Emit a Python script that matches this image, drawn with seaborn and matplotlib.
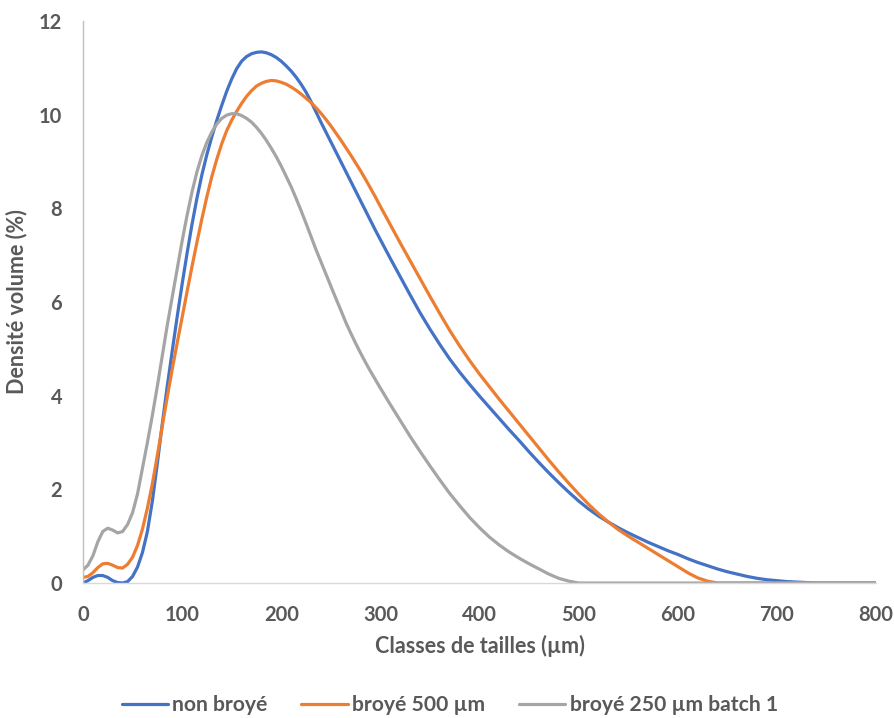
import pandas as pd
import matplotlib
matplotlib.use("Agg")
import matplotlib.pyplot as plt
import seaborn as sns

# Size classes (µm): every 5 µm up to 295, then every 10 µm
tailles = list(range(0, 300, 5)) + list(range(300, 801, 10))

# Volume density (%)
non_broye = [0.0, 0.05, 0.12, 0.16, 0.16, 0.12, 0.05, 0.01, 0.0, 0.03,
             0.14, 0.34, 0.65, 1.1, 1.75, 2.55, 3.4, 4.2, 4.95, 5.68,
             6.38, 7.04, 7.66, 8.22, 8.72, 9.15, 9.53, 9.88, 10.2, 10.5,
             10.76, 10.98, 11.14, 11.24, 11.3, 11.33, 11.34, 11.32, 11.28, 11.22,
             11.14, 11.04, 10.93, 10.8, 10.65, 10.48, 10.28, 10.06, 9.84, 9.63,
             9.42, 9.21, 9.0, 8.79, 8.58, 8.37, 8.16, 7.95, 7.74, 7.53,
             7.33, 6.93, 6.54, 6.15, 5.77, 5.42, 5.09, 4.78, 4.5, 4.24,
             3.99, 3.75, 3.51, 3.27, 3.04, 2.8, 2.57, 2.35, 2.14, 1.94,
             1.75, 1.58, 1.43, 1.3, 1.18, 1.07, 0.97, 0.87, 0.78, 0.69,
             0.61, 0.52, 0.44, 0.37, 0.3, 0.24, 0.19, 0.14, 0.1, 0.07,
             0.05, 0.03, 0.02, 0.01, 0.0, 0.0, 0.0, 0.0, 0.0, 0.0,
             0.0]

broye_500 = [0.12, 0.14, 0.22, 0.33, 0.41, 0.42, 0.38, 0.33, 0.32, 0.4,
             0.55, 0.8, 1.15, 1.6, 2.12, 2.72, 3.35, 3.97, 4.56, 5.12,
             5.67, 6.22, 6.76, 7.28, 7.78, 8.25, 8.68, 9.05, 9.38, 9.66,
             9.88, 10.07, 10.24, 10.39, 10.51, 10.61, 10.67, 10.71, 10.73, 10.72,
             10.69, 10.65, 10.59, 10.52, 10.44, 10.35, 10.26, 10.15, 10.03, 9.9,
             9.76, 9.61, 9.46, 9.3, 9.14, 8.97, 8.8, 8.62, 8.43, 8.24,
             8.04, 7.65, 7.26, 6.88, 6.5, 6.12, 5.75, 5.39, 5.06, 4.75,
             4.46, 4.19, 3.92, 3.66, 3.4, 3.14, 2.88, 2.62, 2.37, 2.13,
             1.9, 1.68, 1.48, 1.3, 1.14, 1.0, 0.87, 0.74, 0.61, 0.48,
             0.35, 0.22, 0.11, 0.04, 0.0, 0.0, 0.0, 0.0, 0.0, 0.0,
             0.0, 0.0, 0.0, 0.0, 0.0, 0.0, 0.0, 0.0, 0.0, 0.0,
             0.0]

broye_250 = [0.28, 0.38, 0.58, 0.88, 1.1, 1.17, 1.13, 1.07, 1.1, 1.25,
             1.5, 1.9, 2.45, 3.0, 3.58, 4.2, 4.85, 5.5, 6.1, 6.7,
             7.3, 7.85, 8.35, 8.78, 9.13, 9.41, 9.63, 9.8, 9.92, 9.99,
             10.02, 10.02, 9.98, 9.92, 9.84, 9.73, 9.6, 9.45, 9.28, 9.1,
             8.9, 8.68, 8.46, 8.21, 7.95, 7.68, 7.4, 7.12, 6.86, 6.6,
             6.34, 6.08, 5.83, 5.57, 5.34, 5.12, 4.91, 4.71, 4.52, 4.34,
             4.16, 3.81, 3.47, 3.13, 2.81, 2.5, 2.2, 1.91, 1.65, 1.4,
             1.18, 0.98, 0.81, 0.66, 0.53, 0.41, 0.3, 0.19, 0.1, 0.04,
             0.0, 0.0, 0.0, 0.0, 0.0, 0.0, 0.0, 0.0, 0.0, 0.0,
             0.0, 0.0, 0.0, 0.0, 0.0, 0.0, 0.0, 0.0, 0.0, 0.0,
             0.0, 0.0, 0.0, 0.0, 0.0, 0.0, 0.0, 0.0, 0.0, 0.0,
             0.0]

series_names = ["non broyé", "broyé 500 µm", "broyé 250 µm batch 1"]
series_colors = ["#4472C4", "#ED7D31", "#A5A5A5"]

# Long-form table for seaborn
frames = []
for name, values in zip(series_names, [non_broye, broye_500, broye_250]):
    frames.append(pd.DataFrame({"Taille": tailles, "Densite": values, "Echantillon": name}))
data = pd.concat(frames, ignore_index=True)

sns.set_style("white")
plt.rcParams["font.family"] = ["Lato", "DejaVu Sans"]
plt.rcParams["font.weight"] = "bold"

text_grey = "#595959"

fig = plt.figure(figsize=(8.94, 7.18), dpi=100)
ax = fig.add_axes([0.0928, 0.188, 0.8872, 0.7828])

sns.lineplot(data=data, x="Taille", y="Densite", hue="Echantillon",
             hue_order=series_names, palette=series_colors, linewidth=2.3,
             ax=ax, legend=False, sort=False)

ax.set_xlim(0, 800)
ax.set_ylim(0, 12)
ax.set_xticks(range(0, 801, 100))
ax.set_yticks(range(0, 13, 2))
ax.tick_params(axis="both", length=0, labelsize=14.5, labelcolor=text_grey)
ax.tick_params(axis="x", pad=16)
ax.tick_params(axis="y", pad=15)
for lab in ax.get_xticklabels() + ax.get_yticklabels():
    lab.set_fontweight("bold")

for side in ["top", "right"]:
    ax.spines[side].set_visible(False)
ax.spines["left"].set_color("#BFBFBF")
ax.spines["bottom"].set_color("#D9D9D9")
ax.spines["left"].set_linewidth(1.0)
ax.spines["bottom"].set_linewidth(1.0)

ax.set_xlabel("Classes de tailles (µm)", fontsize=15.5, fontweight="bold",
              color=text_grey, labelpad=7)
ax.set_ylabel("Densité volume (%)", fontsize=15.5, fontweight="bold",
              color=text_grey)
ax.yaxis.set_label_coords(-0.07, 0.5)

handles = [plt.Line2D([], [], color=c, linewidth=2.3) for c in series_colors]
fig.legend(handles, series_names, loc="center", bbox_to_anchor=(0.503, 0.018),
           ncol=3, frameon=False, handlelength=2.2, handletextpad=0.2,
           columnspacing=1.6, prop={"size": 15.2, "weight": "bold"},
           labelcolor=text_grey)

plt.savefig("out.png", dpi=100)
